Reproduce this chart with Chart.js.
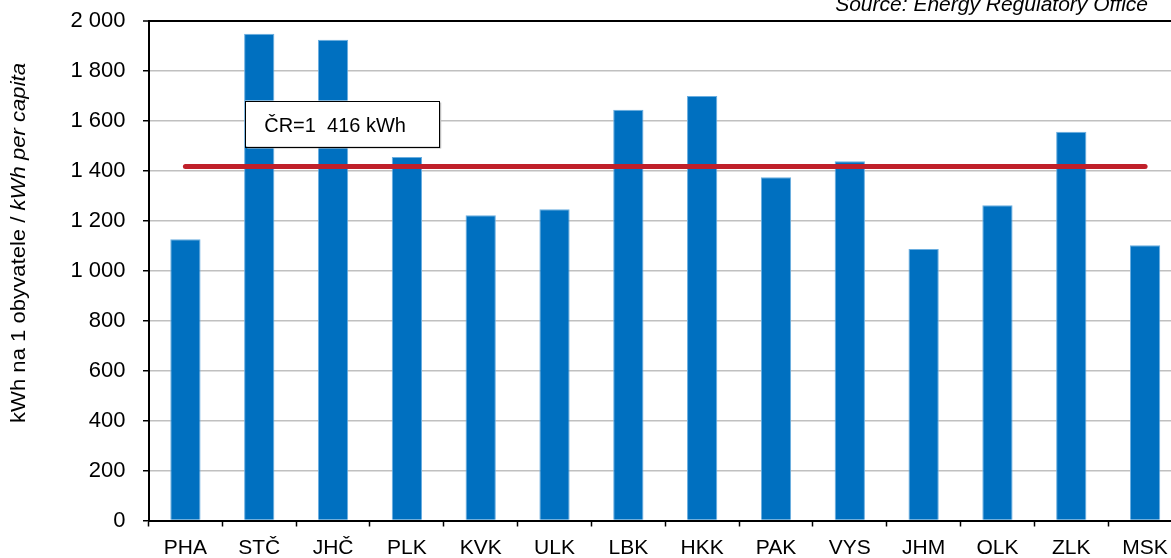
<!DOCTYPE html>
<html>
<head>
<meta charset="utf-8">
<script src="https://cdn.jsdelivr.net/npm/chart.js@4/dist/chart.umd.min.js"></script>
<style>
  html, body { margin: 0; padding: 0; background: #fff; overflow: hidden; }
  #wrap { width: 1200px; height: 558px; position: relative; }
</style>
</head>
<body>
<div id="wrap"><canvas id="spotreba"></canvas></div>
<script>
// kraje CR
var categories = ["PHA", "STČ", "JHČ", "PLK", "KVK", "ULK", "LBK", "HKK", "PAK", "VYS", "JHM", "OLK", "ZLK", "MSK"];
// kWh na 1 obyvatele
var consumption = [1125, 1947, 1923, 1454, 1221, 1245, 1643, 1698, 1373, 1437, 1086, 1261, 1555, 1101];
// prumer CR
var avgCZ = 1416;
var avgLabel = "ČR=1  416 kWh";
var yTicks = [0, 200, 400, 600, 800, 1000, 1200, 1400, 1600, 1800, 2000];
var yTitleNormal = "kWh na 1 obyvatele / ";
var yTitleItalic = "kWh per capita";
var sourceText = "Source: Energy Regulatory Office";

var FONT = "'Liberation Sans', Arial, sans-serif";

function fmt(v) {
  if (v < 1000) return String(v);
  var t = Math.floor(v / 1000), r = String(v % 1000);
  while (r.length < 3) r = "0" + r;
  return t + " " + r;
}

// popisky, prumerny box, zdroj
var extras = {
  id: "extras",
  afterDraw: function (chart) {
    var ctx = chart.ctx, x = chart.scales.x, y = chart.scales.y;

    // box s prumerem
    var bx = x.getPixelForValue(1) - 14, by = y.getPixelForValue(1680);
    var bw = 194, bh = y.getPixelForValue(1496) - by;
    ctx.save();
    ctx.fillStyle = "#bdbdbd";
    ctx.fillRect(bx + 2, by + 2, bw, bh);
    ctx.fillStyle = "#fff";
    ctx.fillRect(bx, by, bw, bh);
    ctx.strokeStyle = "#000";
    ctx.lineWidth = 1;
    ctx.strokeRect(Math.round(bx) + 0.5, Math.round(by) + 0.5, bw, bh);
    ctx.fillStyle = "#000";
    ctx.font = "20px " + FONT;
    ctx.textBaseline = "alphabetic";
    ctx.textAlign = "left";
    ctx.fillText(avgLabel, bx + 19, by + 31);
    ctx.restore();

    // nazev osy y
    ctx.save();
    ctx.translate(19, 243);
    ctx.rotate(-Math.PI / 2);
    ctx.fillStyle = "#000";
    ctx.textBaseline = "middle";
    ctx.font = "20px " + FONT;
    var w1 = ctx.measureText(yTitleNormal).width;
    ctx.font = "italic 20px " + FONT;
    var w2 = ctx.measureText(yTitleItalic).width;
    ctx.scale(360 / (w1 + w2), 1);
    var start = -(w1 + w2) / 2;
    ctx.textAlign = "left";
    ctx.font = "20px " + FONT;
    ctx.fillText(yTitleNormal, start, 0);
    ctx.font = "italic 20px " + FONT;
    ctx.fillText(yTitleItalic, start + w1, 0);
    ctx.restore();

    // zdroj
    ctx.save();
    ctx.fillStyle = "#000";
    ctx.font = "italic 21px " + FONT;
    ctx.textAlign = "right";
    ctx.textBaseline = "alphabetic";
    ctx.fillText(sourceText, 1148, 11);
    ctx.restore();
  }
};

var ctx = document.getElementById("spotreba").getContext("2d");
var chart = new Chart(ctx, {
  type: "bar",
  data: {
    labels: categories,
    datasets: [
      {
        type: "line",
        label: "ČR",
        data: categories.map(function () { return avgCZ; }),
        borderColor: "#c0202a",
        borderWidth: 5,
        borderCapStyle: "round",
        pointRadius: 0,
        fill: false,
        order: 0
      },
      {
        label: "kWh",
        data: consumption,
        backgroundColor: "#0070c0",
        borderColor: "#6aaee0",
        borderWidth: { top: 1, left: 1, right: 1, bottom: 0 },
        borderSkipped: "bottom",
        barPercentage: 0.41,
        categoryPercentage: 1,
        order: 1
      }
    ]
  },
  plugins: [extras],
  options: {
    responsive: true,
    maintainAspectRatio: false,
    devicePixelRatio: 1,
    animation: false,
    layout: { padding: { top: 20.5, right: 18, left: 0, bottom: 0 } },
    plugins: { legend: { display: false }, tooltip: { enabled: false } },
    scales: {
      x: {
        afterFit: function (s) { s.height = 37.5; s.paddingLeft = 0; s.paddingRight = 0; },
        border: { color: "#000", width: 2 },
        grid: {
          drawOnChartArea: false,
          drawTicks: true,
          tickLength: 6,
          tickColor: "#000",
          tickWidth: 1.5,
          offset: true
        },
        ticks: { color: "#000", font: { family: FONT, size: 21 }, padding: 9, maxRotation: 0, autoSkip: false }
      },
      y: {
        min: 0,
        max: 2000,
        afterFit: function (s) { s.width = 148.5; s.paddingTop = 0; s.paddingBottom = 0; },
        afterBuildTicks: function (s) { s.ticks = yTicks.map(function (v) { return { value: v }; }); },
        border: { color: "#000", width: 2 },
        grid: {
          color: function (c) { return (c.tick && (c.tick.value === 2000)) ? "#000" : "#c0c0c0"; },
          lineWidth: function (c) { return (c.tick && (c.tick.value === 2000)) ? 2 : 1.5; },
          tickLength: 5.5,
          tickColor: "#000",
          tickWidth: 1.5
        },
        ticks: {
          color: "#000",
          font: { family: FONT, size: 22 },
          padding: 17.5,
          callback: function (v) { return fmt(v); }
        }
      }
    }
  }
});
</script>
</body>
</html>
